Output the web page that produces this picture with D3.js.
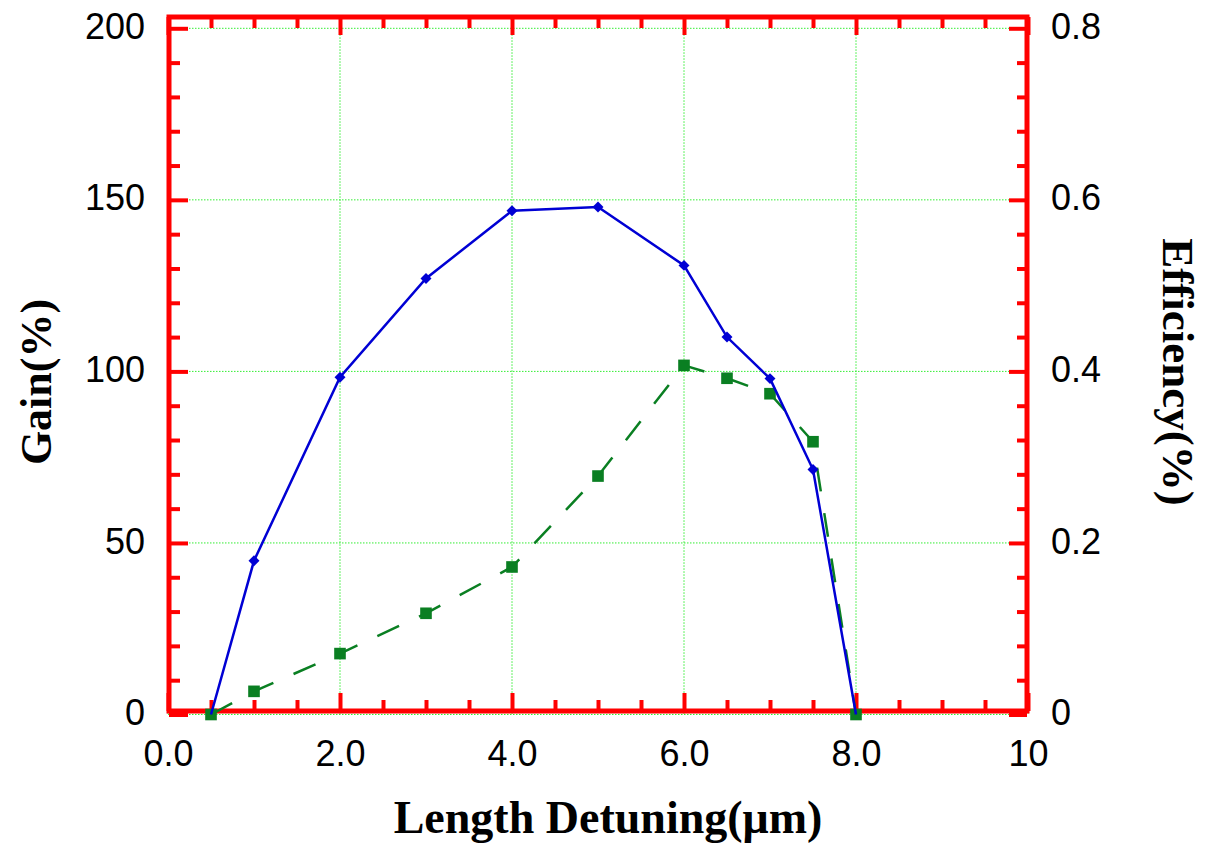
<!DOCTYPE html>
<html>
<head>
<meta charset="utf-8">
<script src="https://cdn.jsdelivr.net/npm/d3@7"></script>
<style>
  html, body { margin: 0; padding: 0; background: #fff; }
  svg { display: block; }
</style>
</head>
<body>
<div id="chart"></div>
<script>
// values
const detuning   = [0.5, 1.0, 2.0, 3.0, 4.0, 5.0, 6.0, 6.5, 7.0, 7.5, 8.0];
const gain       = [0, 44.8, 98.3, 127.1, 146.8, 147.9, 130.9, 110.0, 97.9, 71.4, 0];
const efficiency = [0, 0.027, 0.071, 0.118, 0.172, 0.278, 0.407, 0.392, 0.374, 0.318, 0];

const xTicks = [0, 2, 4, 6, 8, 10];
const xTickLabels = ["0.0", "2.0", "4.0", "6.0", "8.0", "10"];
const gainTicks = [0, 50, 100, 150, 200];
const effTicks = [0, 0.2, 0.4, 0.6, 0.8];
const effTickLabels = ["0", "0.2", "0.4", "0.6", "0.8"];

const width = 1205, height = 849;
const red = "#ff0000";

const x = d3.scaleLinear().domain([0, 10]).range([168, 1028]);
const yL = d3.scaleLinear().domain([0, 200]).range([714.5, 28.3]);
const yR = d3.scaleLinear().domain([0, 0.8]).range([714.5, 28.3]);

// frame lines sit a little inside the data range, like the original
const fTop = 17, fBottom = 711, fLeft = 169, fRight = 1027;

const svg = d3.select("#chart").append("svg")
  .attr("width", width)
  .attr("height", height);

// grid
const grid = svg.append("g")
  .attr("stroke", "#33ee33")
  .attr("stroke-width", 1)
  .attr("stroke-dasharray", "1.5,1.5");

grid.selectAll("line.gx").data(xTicks).join("line")
  .attr("x1", d => x(d)).attr("x2", d => x(d))
  .attr("y1", yL(200)).attr("y2", yL(0));

grid.selectAll("line.gy").data(gainTicks).join("line")
  .attr("y1", d => yL(d)).attr("y2", d => yL(d))
  .attr("x1", x(0)).attr("x2", x(10) - 18);

// axes (ticks point inward)
const fontFam = "'Liberation Sans', Arial, Helvetica, sans-serif";
const xMinor = d3.range(0, 10.01, 0.5).filter(v => v % 2 !== 0);
const gMinor = d3.range(0, 200.1, 10).filter(v => v % 50 !== 0);
const eMinor = d3.range(0, 0.801, 0.04).filter((v, i) => i % 5 !== 0);

function styleAxis(g) {
  g.select(".domain").remove();
  g.selectAll(".tick line").attr("stroke", red).attr("stroke-width", 4);
  g.selectAll(".tick text")
    .attr("fill", "#000")
    .style("font-family", fontFam)
    .style("font-size", "36px");
}

function vCenter(g) {
  g.selectAll(".tick text").attr("dy", "0.28em");
}

// bottom
svg.append("g").attr("transform", `translate(0,${fBottom})`)
  .call(d3.axisBottom(x).tickValues(xMinor).tickSize(-11).tickFormat(""))
  .call(styleAxis);
svg.append("g").attr("transform", `translate(0,${fBottom})`)
  .call(d3.axisBottom(x).tickValues(xTicks).tickSize(-18).tickPadding(29)
    .tickFormat((d, i) => xTickLabels[i]))
  .call(styleAxis);

// top
svg.append("g").attr("transform", `translate(0,${fTop})`)
  .call(d3.axisTop(x).tickValues(xMinor).tickSize(-11).tickFormat(""))
  .call(styleAxis);
svg.append("g").attr("transform", `translate(0,${fTop})`)
  .call(d3.axisTop(x).tickValues(xTicks).tickSize(-18).tickFormat(""))
  .call(styleAxis);

// left (gain)
svg.append("g").attr("transform", `translate(${fLeft},0)`)
  .call(d3.axisLeft(yL).tickValues(gMinor).tickSize(-11).tickFormat(""))
  .call(styleAxis);
svg.append("g").attr("transform", `translate(${fLeft},0)`)
  .call(d3.axisLeft(yL).tickValues(gainTicks).tickSize(-19).tickPadding(24)
    .tickFormat(d3.format("d")))
  .call(styleAxis)
  .call(vCenter);

// right (efficiency)
svg.append("g").attr("transform", `translate(${fRight},0)`)
  .call(d3.axisRight(yR).tickValues(eMinor).tickSize(-10).tickFormat(""))
  .call(styleAxis);
svg.append("g").attr("transform", `translate(${fRight},0)`)
  .call(d3.axisRight(yR).tickValues(effTicks).tickSize(-18).tickPadding(24)
    .tickFormat((d, i) => effTickLabels[i]))
  .call(styleAxis)
  .call(vCenter);

// frame
svg.append("path")
  .attr("d", `M${fLeft},${fTop}H${fRight}V${fBottom}H${fLeft}Z`)
  .attr("fill", "none")
  .attr("stroke", red)
  .attr("stroke-width", 5);

// efficiency series (dashed green, squares)
const green = "#0a7f22";
const effPts = detuning.map((d, i) => [d, efficiency[i]]);
svg.append("path")
  .datum(effPts)
  .attr("fill", "none")
  .attr("stroke", green)
  .attr("stroke-width", 2.5)
  .attr("stroke-dasharray", "24,22")
  .attr("d", d3.line().x(d => x(d[0])).y(d => yR(d[1])));

svg.append("g").selectAll("path").data(effPts).join("path")
  .attr("transform", d => `translate(${x(d[0])},${yR(d[1])})`)
  .attr("d", d3.symbol(d3.symbolSquare, 135))
  .attr("fill", green);

// gain series (solid blue, diamonds)
const blue = "#0000d4";
const gainPts = detuning.map((d, i) => [d, gain[i]]);
svg.append("path")
  .datum(gainPts)
  .attr("fill", "none")
  .attr("stroke", blue)
  .attr("stroke-width", 2.5)
  .attr("d", d3.line().x(d => x(d[0])).y(d => yL(d[1])));

svg.append("g").selectAll("path").data(gainPts.slice(1, -1)).join("path")
  .attr("transform", d => `translate(${x(d[0])},${yL(d[1])}) rotate(45)`)
  .attr("d", d3.symbol(d3.symbolSquare, 60))
  .attr("fill", blue);

// axis titles
const serif = "'Liberation Serif', 'Times New Roman', Times, serif";

svg.append("text")
  .attr("transform", `translate(51,382) rotate(-90)`)
  .attr("text-anchor", "middle")
  .style("font-family", serif)
  .style("font-weight", "bold")
  .style("font-size", "44px")
  .text("Gain(%)");

svg.append("text")
  .attr("transform", `translate(1163,372) rotate(90)`)
  .attr("text-anchor", "middle")
  .style("font-family", serif)
  .style("font-weight", "bold")
  .style("font-size", "45px")
  .text("Efficiency(%)");

svg.append("text")
  .attr("x", 608)
  .attr("y", 833)
  .attr("text-anchor", "middle")
  .style("font-family", serif)
  .style("font-weight", "bold")
  .style("font-size", "46px")
  .text("Length Detuning(μm)");
</script>
</body>
</html>
